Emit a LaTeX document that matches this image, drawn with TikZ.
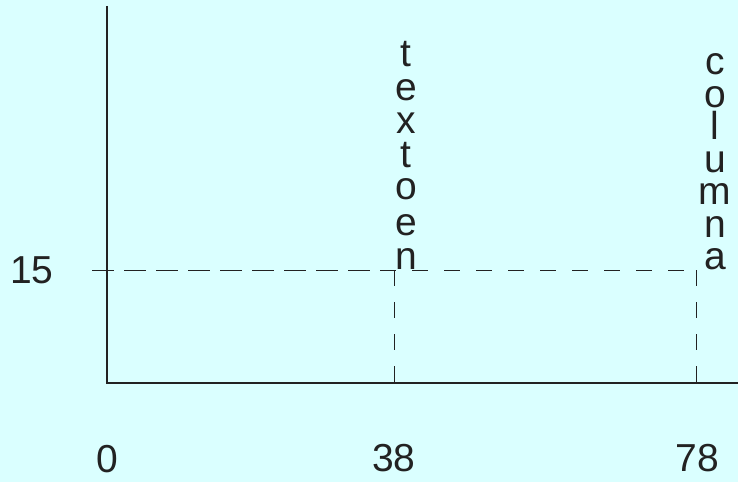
\documentclass[tikz,border=0pt]{standalone}
\usepackage{fontspec}
\setmainfont{Liberation Sans}
\definecolor{bgcyan}{RGB}{218,255,255}
\definecolor{ink}{RGB}{34,34,34}
\begin{document}
\begin{tikzpicture}[x=1bp,y=-1bp,
  lbl/.style={inner sep=0pt,anchor=base,text=ink,font=\fontsize{39bp}{41bp}\selectfont},
  axisline/.style={draw=ink,line width=1.8bp},
  dline/.style={draw=ink,line width=1bp,dash pattern=on 16bp off 16bp},
  dlineb/.style={draw=ink,line width=1bp,dash pattern=on 16bp off 16bp,dash phase=-6bp}]
\fill[bgcyan] (0,0) rectangle (738,482);
\useasboundingbox (0,0) rectangle (738,482);
% axes
\coordinate (ytop) at (107,6);
\coordinate (orig) at (107,383);
\coordinate (xend) at (738,383);
\draw[axisline] (ytop) -- (orig) -- (xend);
% reference points
\coordinate (h0) at (92,270);
\coordinate (p38) at (394,270);
\coordinate (p78) at (696,270);
\coordinate (b38) at (394,398);
\coordinate (b78) at (696,398);
\draw[dline] (h0) -- (p78);
\draw[dlineb] (h0) -- (p38);
\draw[dline] (p38) -- (b38);
\draw[dline] (p78) -- (b78);
% tick labels
\node[lbl] (l15) at (32,284) {15};
\node[lbl] (l0) at (107,472) {0};
\node[lbl] (l38) at (394,471) {38};
\node[lbl] (l78) at (697,471) {78};
% vertical text "texto en"
\node[lbl] (ta) at (406,67) {t};
\node[lbl] (tb) at (406,101) {e};
\node[lbl] (tc) at (406,134) {x};
\node[lbl] (td) at (406,168) {t};
\node[lbl] (te) at (406,200) {o};
\node[lbl] (tf) at (406,236) {e};
\node[lbl] (tg) at (406,270) {n};
% vertical text "columna"
\node[lbl] (ca) at (715,75) {c};
\node[lbl] (cb) at (715,107.5) {o};
\node[lbl] (cc) at (715,140) {l};
\node[lbl] (cd) at (715,172.5) {u};
\node[lbl] (ce) at (715,205) {m};
\node[lbl] (cf) at (715,237.5) {n};
\node[lbl] (cg) at (715,270) {a};
\end{tikzpicture}
\end{document}
